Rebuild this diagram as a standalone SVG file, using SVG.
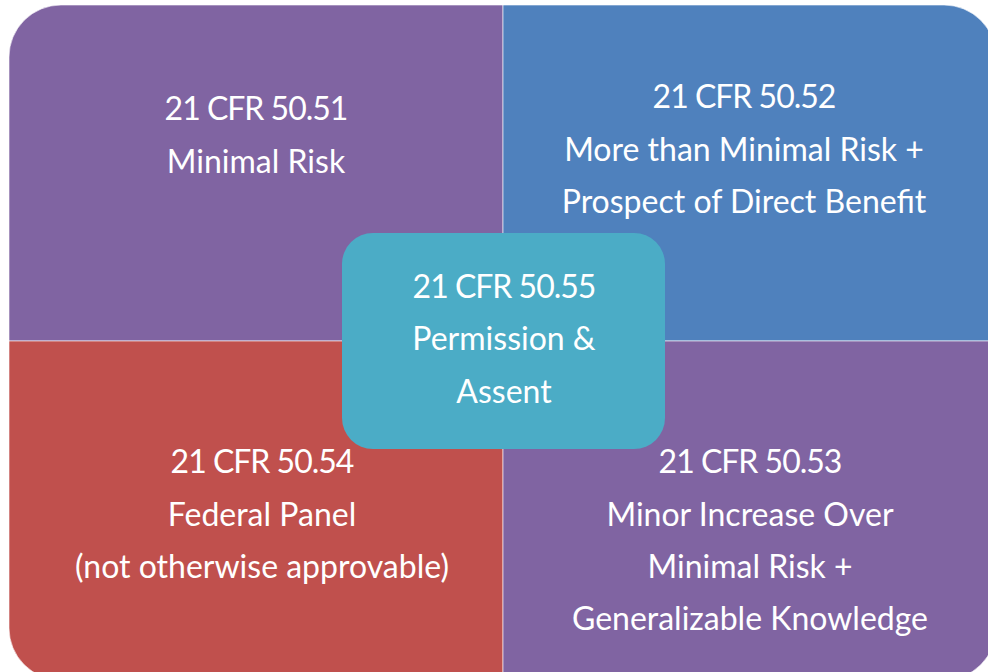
<svg xmlns="http://www.w3.org/2000/svg" width="988" height="672" viewBox="0 0 988 672">
  <style>
    .quad { stroke: #ffffff; stroke-width: 1; stroke-opacity: 0.6; }
    .purple { fill: #8064A2; }
    .blue { fill: #4F81BD; }
    .red { fill: #C0504D; }
    .teal { fill: #4BACC6; }
    .label { font-family: Lato, "Open Sans", "Liberation Sans", sans-serif; font-size: 32px; fill: #ffffff; text-anchor: middle; }
    .code { letter-spacing: -1px; }
  </style>
  <rect x="0" y="0" width="988" height="672" fill="#ffffff"/>

  <!-- top-left quadrant -->
  <g id="q5051">
    <path class="quad purple" d="M9,341 V57 A52,52 0 0 1 61,5 H503 V341 Z"/>
    <text class="label code" x="256" y="120">21 CFR 50.51</text>
    <text class="label" x="256" y="173">Minimal Risk</text>
  </g>

  <!-- top-right quadrant -->
  <g id="q5052">
    <path class="quad blue" d="M503,5 H944 A52,52 0 0 1 996,57 V341 H503 Z"/>
    <text class="label code" x="744" y="108">21 CFR 50.52</text>
    <text class="label" x="744" y="161">More than Minimal Risk +</text>
    <text class="label" x="744" y="213">Prospect of Direct Benefit</text>
  </g>

  <!-- bottom-left quadrant -->
  <g id="q5054">
    <path class="quad red" d="M9,341 H503 V680 H61 A52,52 0 0 1 9,628 Z"/>
    <text class="label code" x="262" y="473">21 CFR 50.54</text>
    <text class="label" x="262" y="526">Federal Panel</text>
    <text class="label" x="262" y="578">(not otherwise approvable)</text>
  </g>

  <!-- bottom-right quadrant -->
  <g id="q5053">
    <path class="quad purple" d="M503,341 H996 V628 A52,52 0 0 1 944,680 H503 Z"/>
    <text class="label code" x="750" y="473">21 CFR 50.53</text>
    <text class="label" x="750" y="526">Minor Increase Over</text>
    <text class="label" x="750" y="578">Minimal Risk +</text>
    <text class="label" x="750" y="630">Generalizable Knowledge</text>
  </g>

  <!-- central overlay -->
  <g id="q5055">
    <rect class="teal" x="342" y="233" width="323" height="216" rx="31" ry="31"/>
    <text class="label code" x="504" y="298">21 CFR 50.55</text>
    <text class="label" x="504" y="350">Permission &amp;</text>
    <text class="label" x="504" y="403">Assent</text>
  </g>

  <g id="connectors"/>
</svg>
